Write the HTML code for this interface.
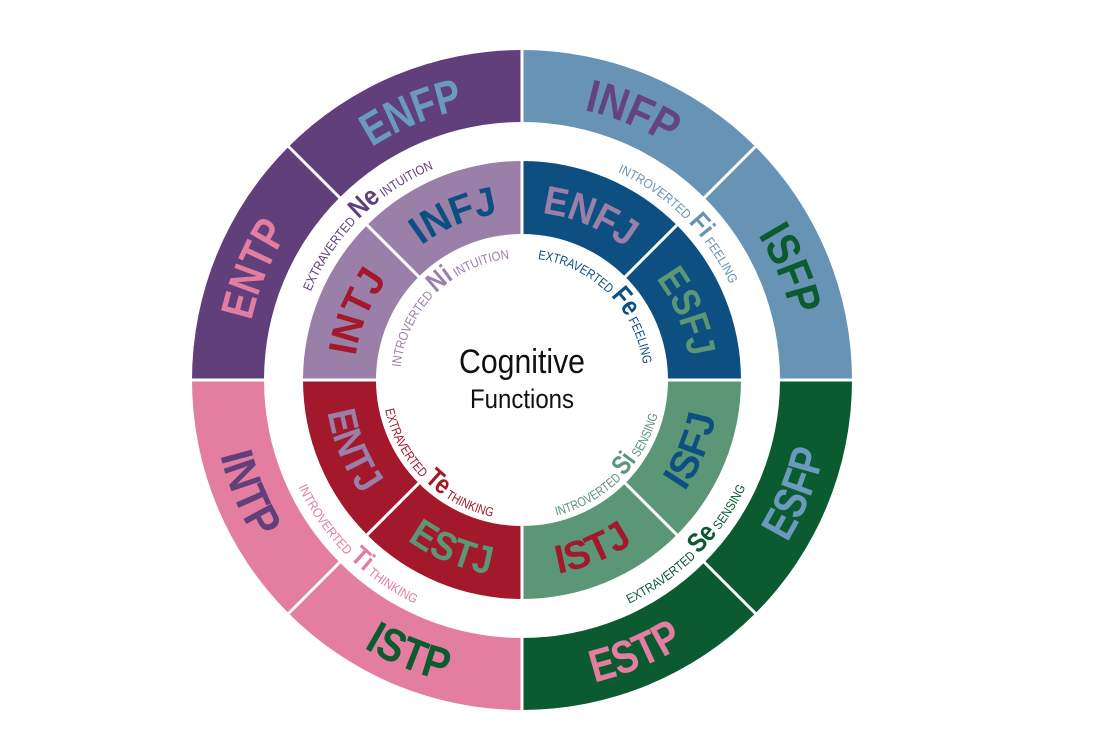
<!DOCTYPE html>
<html><head><meta charset="utf-8"><style>
html,body{margin:0;padding:0;background:#fff;}
svg{display:block;}
text{font-family:"Liberation Sans Narrow","Liberation Sans",sans-serif;}
.o{font-size:46px;font-weight:bold;}
.i{font-size:40px;font-weight:bold;}
.s{font-size:13px;}
.b{font-size:27px;font-weight:bold;}
</style></head><body>
<svg width="1114" height="742" viewBox="0 0 1114 742" xmlns="http://www.w3.org/2000/svg">
<defs>
<path id="cw277" d="M522,657 A277,277 0 1,1 522,103 A277,277 0 1,1 522,657"/>
<path id="cw168" d="M522,548 A168,168 0 1,1 522,212 A168,168 0 1,1 522,548"/>
<path id="cw229" d="M522,609 A229,229 0 1,1 522,151 A229,229 0 1,1 522,609"/>
<path id="cw122" d="M522,502 A122,122 0 1,1 522,258 A122,122 0 1,1 522,502"/>
<path id="cc311" d="M522,69 A311,311 0 1,0 522,691 A311,311 0 1,0 522,69"/>
<path id="cc197" d="M522,183 A197,197 0 1,0 522,577 A197,197 0 1,0 522,183"/>
<path id="cc248" d="M522,132 A248,248 0 1,0 522,628 A248,248 0 1,0 522,132"/>
<path id="cc140" d="M522,240 A140,140 0 1,0 522,520 A140,140 0 1,0 522,240"/>
</defs>
<path d="M522,380 L522,50 A330,330 0 0,1 852,380 Z" fill="#6794b4"/>
<path d="M522,380 L852,380 A330,330 0 0,1 522,710 Z" fill="#0b5a30"/>
<path d="M522,380 L522,710 A330,330 0 0,1 192,380 Z" fill="#e37ea0"/>
<path d="M522,380 L192,380 A330,330 0 0,1 522,50 Z" fill="#613f7b"/>
<circle cx="522" cy="380" r="258" fill="#fff"/>
<path d="M522,380 L522,161 A219,219 0 0,1 741,380 Z" fill="#0e4f82"/>
<path d="M522,380 L741,380 A219,219 0 0,1 522,599 Z" fill="#5b9676"/>
<path d="M522,380 L522,599 A219,219 0 0,1 303,380 Z" fill="#a3182b"/>
<path d="M522,380 L303,380 A219,219 0 0,1 522,161 Z" fill="#9a7fa9"/>
<circle cx="522" cy="380" r="146" fill="#fff"/>
<g stroke="#fff" stroke-width="3">
<line x1="522" y1="40" x2="522" y2="720"/>
<line x1="180" y1="380" x2="864" y2="380"/>
<line x1="280" y1="138" x2="764" y2="622"/>
<line x1="764" y1="138" x2="280" y2="622"/>
</g>
<text class="o" fill="#6a9bbf" text-anchor="middle"><textPath href="#cw277" startOffset="43.75%" textLength="100" lengthAdjust="spacingAndGlyphs">ENFP</textPath></text>
<text class="o" fill="#65437f" text-anchor="middle"><textPath href="#cw277" startOffset="56.25%" textLength="92" lengthAdjust="spacingAndGlyphs">INFP</textPath></text>
<text class="o" fill="#0b5a30" text-anchor="middle"><textPath href="#cw277" startOffset="68.75%" textLength="88" lengthAdjust="spacingAndGlyphs">ISFP</textPath></text>
<text class="o" fill="#e37ea0" text-anchor="middle"><textPath href="#cw277" startOffset="31.25%" textLength="98" lengthAdjust="spacingAndGlyphs">ENTP</textPath></text>
<text class="o" fill="#6a9bbf" text-anchor="middle"><textPath href="#cc311" startOffset="68.75%" textLength="98" lengthAdjust="spacingAndGlyphs">ESFP</textPath></text>
<text class="o" fill="#e37ea0" text-anchor="middle"><textPath href="#cc311" startOffset="56.25%" textLength="98" lengthAdjust="spacingAndGlyphs">ESTP</textPath></text>
<text class="o" fill="#0b5a30" text-anchor="middle"><textPath href="#cc311" startOffset="43.75%" textLength="88" lengthAdjust="spacingAndGlyphs">ISTP</textPath></text>
<text class="o" fill="#613f7b" text-anchor="middle"><textPath href="#cc311" startOffset="31.25%" textLength="92" lengthAdjust="spacingAndGlyphs">INTP</textPath></text>
<text class="i" fill="#0e4f82" text-anchor="middle"><textPath href="#cw168" startOffset="43.75%" textLength="84" lengthAdjust="spacingAndGlyphs">INFJ</textPath></text>
<text class="i" fill="#9a7fa9" text-anchor="middle"><textPath href="#cw168" startOffset="56.25%" textLength="92" lengthAdjust="spacingAndGlyphs">ENFJ</textPath></text>
<text class="i" fill="#5b9676" text-anchor="middle"><textPath href="#cw168" startOffset="68.75%" textLength="86" lengthAdjust="spacingAndGlyphs">ESFJ</textPath></text>
<text class="i" fill="#a3182b" text-anchor="middle"><textPath href="#cw168" startOffset="31.25%" textLength="84" lengthAdjust="spacingAndGlyphs">INTJ</textPath></text>
<text class="i" fill="#0e4f82" text-anchor="middle"><textPath href="#cc197" startOffset="68.75%" textLength="82" lengthAdjust="spacingAndGlyphs">ISFJ</textPath></text>
<text class="i" fill="#a3182b" text-anchor="middle"><textPath href="#cc197" startOffset="56.25%" textLength="82" lengthAdjust="spacingAndGlyphs">ISTJ</textPath></text>
<text class="i" fill="#5b9676" text-anchor="middle"><textPath href="#cc197" startOffset="43.75%" textLength="90" lengthAdjust="spacingAndGlyphs">ESTJ</textPath></text>
<text class="i" fill="#9a7fa9" text-anchor="middle"><textPath href="#cc197" startOffset="31.25%" textLength="90" lengthAdjust="spacingAndGlyphs">ENTJ</textPath></text>
<text fill="#613f7b" text-anchor="middle"><textPath href="#cw229" startOffset="37.5%" textLength="178" lengthAdjust="spacingAndGlyphs"><tspan class="s">EXTRAVERTED </tspan><tspan class="b">Ne</tspan><tspan class="s"> INTUITION</tspan></textPath></text>
<text fill="#6794b4" text-anchor="middle"><textPath href="#cw229" startOffset="62.5%" textLength="162" lengthAdjust="spacingAndGlyphs"><tspan class="s">INTROVERTED </tspan><tspan class="b">Fi</tspan><tspan class="s"> FEELING</tspan></textPath></text>
<text fill="#0b5a30" text-anchor="middle"><textPath href="#cc248" startOffset="62.5%" textLength="168" lengthAdjust="spacingAndGlyphs"><tspan class="s">EXTRAVERTED </tspan><tspan class="b">Se</tspan><tspan class="s"> SENSING</tspan></textPath></text>
<text fill="#e37ea0" text-anchor="middle"><textPath href="#cc248" startOffset="37.5%" textLength="168" lengthAdjust="spacingAndGlyphs"><tspan class="s">INTROVERTED </tspan><tspan class="b">Ti</tspan><tspan class="s"> THINKING</tspan></textPath></text>
<text fill="#9a7fa9" text-anchor="middle"><textPath href="#cw122" startOffset="37.5%" textLength="166" lengthAdjust="spacingAndGlyphs"><tspan class="s">INTROVERTED </tspan><tspan class="b">Ni</tspan><tspan class="s"> INTUITION</tspan></textPath></text>
<text fill="#0e4f82" text-anchor="middle"><textPath href="#cw122" startOffset="62.5%" textLength="160" lengthAdjust="spacingAndGlyphs"><tspan class="s">EXTRAVERTED </tspan><tspan class="b">Fe</tspan><tspan class="s"> FEELING</tspan></textPath></text>
<text fill="#5b9676" text-anchor="middle"><textPath href="#cc140" startOffset="62.5%" textLength="150" lengthAdjust="spacingAndGlyphs"><tspan class="s">INTROVERTED </tspan><tspan class="b">Si</tspan><tspan class="s"> SENSING</tspan></textPath></text>
<text fill="#a3182b" text-anchor="middle"><textPath href="#cc140" startOffset="37.5%" textLength="160" lengthAdjust="spacingAndGlyphs"><tspan class="s">EXTRAVERTED </tspan><tspan class="b">Te</tspan><tspan class="s"> THINKING</tspan></textPath></text>
<text x="522" y="373" text-anchor="middle" font-size="34" fill="#111" textLength="126" lengthAdjust="spacingAndGlyphs">Cognitive</text>
<text x="522" y="408" text-anchor="middle" font-size="27" fill="#111" textLength="104" lengthAdjust="spacingAndGlyphs">Functions</text>
</svg>
</body></html>
